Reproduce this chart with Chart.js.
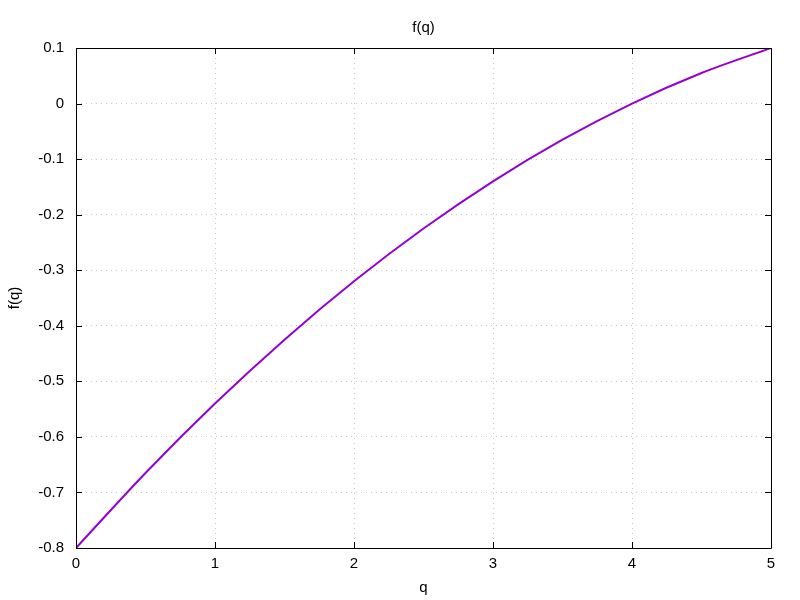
<!DOCTYPE html>
<html>
<head>
<meta charset="utf-8">
<script src="https://cdn.jsdelivr.net/npm/chart.js@4/dist/chart.umd.min.js"></script>
<style>
  html, body { margin: 0; padding: 0; background: #fff; }
  #wrap { width: 800px; height: 600px; }
</style>
</head>
<body>
<div id="wrap"><canvas id="c" width="800" height="600"></canvas></div>
<script>
// values
var qValues = [0, 0.5, 1, 1.5, 2, 2.5, 3, 3.5, 4, 4.5, 5];
var fValues = [-0.8, -0.665, -0.54, -0.425, -0.32, -0.225, -0.14, -0.065, 0.0, 0.055, 0.1];
var xTicks = [0, 1, 2, 3, 4, 5];
var yTicks = [0.1, 0, -0.1, -0.2, -0.3, -0.4, -0.5, -0.6, -0.7, -0.8];

var FONT = { family: "'Liberation Sans', Arial, sans-serif", size: 15 };

// gnuplot-like frame: black border with inward ticks on all sides
var framePlugin = {
  id: 'frame',
  afterDraw: function(chart) {
    var ctx = chart.ctx, a = chart.chartArea;
    var xs = chart.scales.x, ys = chart.scales.y;
    var len = 6;
    ctx.save();
    ctx.strokeStyle = '#000';
    ctx.lineWidth = 1;
    ctx.beginPath();
    ctx.rect(Math.round(a.left) + 0.5, Math.round(a.top) + 0.5,
             Math.round(a.right - a.left), Math.round(a.bottom - a.top));
    xTicks.forEach(function(v) {
      var px = Math.round(xs.getPixelForValue(v)) + 0.5;
      ctx.moveTo(px, a.bottom); ctx.lineTo(px, a.bottom - len);
      ctx.moveTo(px, a.top); ctx.lineTo(px, a.top + len);
    });
    yTicks.forEach(function(v) {
      var py = Math.round(ys.getPixelForValue(v)) + 0.5;
      ctx.moveTo(a.left, py); ctx.lineTo(a.left + len, py);
      ctx.moveTo(a.right, py); ctx.lineTo(a.right - len, py);
    });
    ctx.stroke();
    ctx.restore();
  }
};

new Chart(document.getElementById('c'), {
  type: 'line',
  data: {
    datasets: [{
      label: 'f(q)',
      data: qValues.map(function(q, i) { return { x: q, y: fValues[i] }; }),
      borderColor: '#9400d3',
      borderWidth: 2,
      pointRadius: 0,
      cubicInterpolationMode: 'monotone',
      fill: false
    }]
  },
  options: {
    responsive: false,
    animation: false,
    layout: { padding: { left: 0, right: 29, top: 0, bottom: 0 } },
    plugins: {
      legend: { display: false },
      tooltip: { enabled: false },
      title: {
        display: true,
        fullSize: false,
        text: 'f(q)',
        color: '#000',
        font: { family: FONT.family, size: 15, weight: 'normal' },
        padding: { top: 19, bottom: 11 }
      }
    },
    scales: {
      x: {
        type: 'linear',
        min: 0, max: 5,
        afterBuildTicks: function(s) { s.ticks = xTicks.map(function(v) { return { value: v }; }); },
        afterFit: function(s) { s.height = 52; },
        ticks: { color: '#000', font: FONT, padding: 7, maxRotation: 0 },
        grid: { color: '#c8c8c8', drawTicks: false, tickLength: 0 },
        border: { display: false, dash: [1, 4] },
        title: { display: true, text: 'q', color: '#000', font: FONT, padding: { top: 3, bottom: 3 } }
      },
      y: {
        type: 'linear',
        min: -0.8, max: 0.1,
        afterBuildTicks: function(s) { s.ticks = yTicks.map(function(v) { return { value: v }; }); },
        afterFit: function(s) { s.width = 76; },
        ticks: {
          color: '#000', font: FONT, padding: 12,
          callback: function(v) { return String(Math.round(v * 10) / 10); }
        },
        grid: { color: '#c8c8c8', drawTicks: false, tickLength: 0 },
        border: { display: false, dash: [1, 4] },
        title: { display: true, text: 'f(q)', color: '#000', font: FONT, padding: { top: 6, bottom: 4 } }
      }
    }
  },
  plugins: [framePlugin]
});
</script>
</body>
</html>
